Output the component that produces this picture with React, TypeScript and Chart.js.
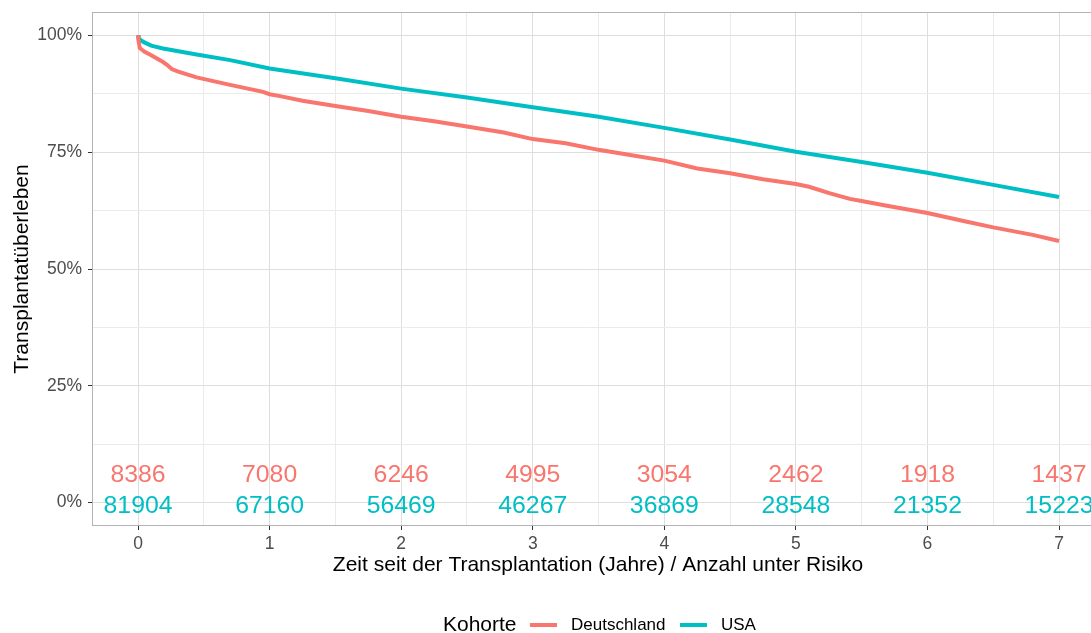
import React, { useEffect, useRef } from 'react';
import { Chart, registerables } from 'chart.js';
Chart.register(...registerables);

// Kaplan-Meier curves (time in years, survival in %)
const deTime = [0, 0.003, 0.013, 0.05, 0.09, 0.19, 0.22, 0.256, 0.3, 0.445, 0.7, 0.95, 1.0, 1.08, 1.25, 1.5, 1.75, 2, 2.25, 2.5, 2.78, 3.0, 3.25, 3.5, 3.74, 4, 4.25, 4.5, 4.75, 5, 5.1, 5.26, 5.41, 5.51, 5.66, 6, 6.3, 6.5, 6.8, 7];
const deSurv = [100, 99, 97.3, 96.5, 95.9, 94.3, 93.7, 92.8, 92.3, 91.0, 89.4, 87.9, 87.4, 87.0, 86.0, 84.9, 83.8, 82.6, 81.6, 80.5, 79.2, 77.8, 76.9, 75.5, 74.4, 73.2, 71.5, 70.5, 69.2, 68.2, 67.6, 66.2, 65.0, 64.5, 63.7, 62.0, 60.1, 58.9, 57.3, 56.0];
const usTime = [0, 0.005, 0.04, 0.1, 0.19, 0.445, 0.7, 1.0, 1.5, 2, 2.5, 3, 3.5, 4, 4.5, 5, 5.5, 6, 6.5, 7];
const usSurv = [100, 99.3, 98.6, 97.8, 97.2, 95.9, 94.7, 92.9, 90.8, 88.6, 86.7, 84.6, 82.6, 80.2, 77.7, 75.1, 72.9, 70.6, 68.0, 65.4];

// Numbers at risk
const riskYears = [0, 1, 2, 3, 4, 5, 6, 7];
const riskDE = [8386, 7080, 6246, 4995, 3054, 2462, 1918, 1437];
const riskUS = [81904, 67160, 56469, 46267, 36869, 28548, 21352, 15223];

const xTicks = [0, 0.5, 1, 1.5, 2, 2.5, 3, 3.5, 4, 4.5, 5, 5.5, 6, 6.5, 7];
const yTicks = [0, 12.5, 25, 37.5, 50, 62.5, 75, 87.5, 100];

const RED = '#F8766D';
const TEAL = '#00BFC4';
const FONT = '"Liberation Sans", Arial, sans-serif';

export default function App() {
  const ref = useRef<HTMLCanvasElement>(null);
  useEffect(() => {
    document.body.style.margin = '0';
    const overlay = {
      id: 'overlay',
      afterDatasetsDraw(chart: any) {
        const ctx = chart.ctx;
        const xs = chart.scales.x;
        const ys = chart.scales.y;
        ctx.save();
        ctx.font = `24.8px ${FONT}`;
        ctx.textAlign = 'center';
        ctx.textBaseline = 'middle';
        riskYears.forEach((t, i) => {
          ctx.fillStyle = RED;
          ctx.fillText(String(riskDE[i]), xs.getPixelForValue(t), ys.getPixelForValue(5.9));
          ctx.fillStyle = TEAL;
          ctx.fillText(String(riskUS[i]), xs.getPixelForValue(t), ys.getPixelForValue(-0.7));
        });
        ctx.restore();
      },
      afterDraw(chart: any) {
        const ctx = chart.ctx;
        const a = chart.chartArea;
        ctx.save();
        ctx.strokeStyle = '#b3b3b3';
        ctx.lineWidth = 1;
        ctx.strokeRect(a.left + 0.5, a.top + 0.5, a.right - a.left + 20, a.bottom - a.top - 1);
        // axis titles
        ctx.fillStyle = '#000';
        ctx.font = `21px ${FONT}`;
        ctx.textAlign = 'center';
        ctx.textBaseline = 'middle';
        ctx.fillText('Zeit seit der Transplantation (Jahre) / Anzahl unter Risiko', 598, 565);
        ctx.save();
        ctx.translate(22, (a.top + a.bottom) / 2);
        ctx.rotate(-Math.PI / 2);
        ctx.fillText('Transplantatüberleben', 0, 0);
        ctx.restore();
        // legend
        ctx.textAlign = 'left';
        ctx.font = `21px ${FONT}`;
        ctx.fillText('Kohorte', 443, 625);
        ctx.lineWidth = 4;
        ctx.strokeStyle = RED;
        ctx.beginPath(); ctx.moveTo(530, 625); ctx.lineTo(557, 625); ctx.stroke();
        ctx.strokeStyle = TEAL;
        ctx.beginPath(); ctx.moveTo(680, 625); ctx.lineTo(707, 625); ctx.stroke();
        ctx.font = `17px ${FONT}`;
        ctx.fillStyle = '#000';
        ctx.fillText('Deutschland', 571, 625);
        ctx.fillText('USA', 721, 625);
        ctx.restore();
      },
    };

    const isMajorX = (v: number) => Number.isInteger(v);
    const isMajorY = (v: number) => v % 25 === 0;

    const chart = new Chart(ref.current!, {
      type: 'line',
      data: {
        datasets: [
          {
            label: 'Deutschland',
            data: deTime.map((t, i) => ({ x: t, y: deSurv[i] })),
            borderColor: RED,
            borderWidth: 4,
            pointRadius: 0,
            fill: false,
            tension: 0,
          },
          {
            label: 'USA',
            data: usTime.map((t, i) => ({ x: t, y: usSurv[i] })),
            borderColor: TEAL,
            borderWidth: 4,
            pointRadius: 0,
            fill: false,
            tension: 0,
          },
        ],
      },
      options: {
        responsive: false,
        animation: false,
        layout: { padding: { top: 12, left: 0, right: 0, bottom: 0 } },
        plugins: { legend: { display: false }, tooltip: { enabled: false }, title: { display: false } },
        scales: {
          x: {
            type: 'linear',
            min: -0.35,
            max: 7.243,
            afterBuildTicks: (s: any) => { s.ticks = xTicks.map((v) => ({ value: v })); },
            afterFit: (s: any) => { s.height = 107; s.paddingLeft = 0; s.paddingRight = 0; },
            border: { display: false },
            grid: {
              color: (c: any) => (isMajorX(c.tick?.value) ? '#dedede' : '#ebebeb'),
              lineWidth: 1,
              tickLength: 4,
              tickColor: (c: any) => (isMajorX(c.tick?.value) ? '#333333' : 'rgba(0,0,0,0)'),
            },
            ticks: {
              autoSkip: false,
              maxRotation: 0,
              padding: 4,
              color: '#4d4d4d',
              font: { family: FONT, size: 17.5 },
              callback: (v: any) => (Number.isInteger(v) ? String(v) : ''),
            },
          },
          y: {
            type: 'linear',
            min: -5,
            max: 105,
            afterBuildTicks: (s: any) => { s.ticks = yTicks.map((v) => ({ value: v })); },
            afterFit: (s: any) => { s.width = 92; s.paddingTop = 0; s.paddingBottom = 0; },
            border: { display: false },
            grid: {
              color: (c: any) => (isMajorY(c.tick?.value) ? '#dedede' : '#ebebeb'),
              lineWidth: 1,
              tickLength: 4,
              tickColor: (c: any) => (isMajorY(c.tick?.value) ? '#333333' : 'rgba(0,0,0,0)'),
            },
            ticks: {
              autoSkip: false,
              padding: 6,
              color: '#4d4d4d',
              font: { family: FONT, size: 17.5 },
              callback: (v: any) => (v % 25 === 0 ? `${v}%` : ''),
            },
          },
        },
      },
      plugins: [overlay],
    });
    return () => chart.destroy();
  }, []);
  return (
    <div style={{ width: 1091, height: 633, position: 'relative' }}>
      <canvas ref={ref} width={1091} height={633} />
    </div>
  );
}
